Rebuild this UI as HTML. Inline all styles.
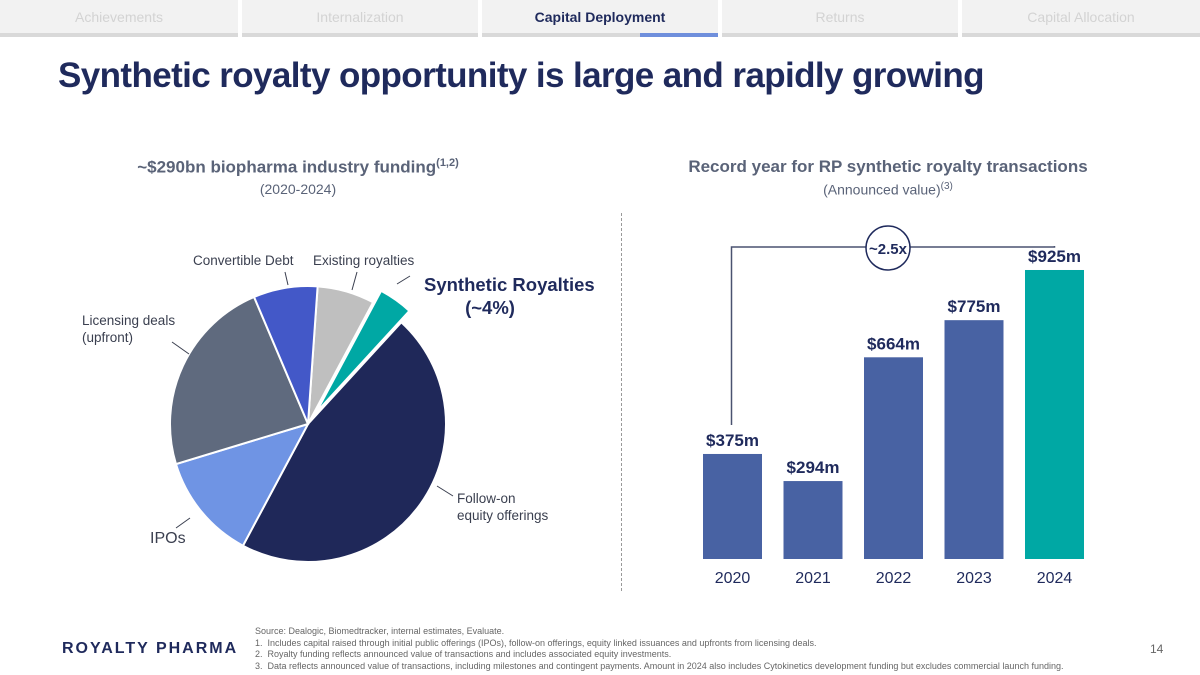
<!DOCTYPE html>
<html><head><meta charset="utf-8"><style>
body{margin:0;width:1200px;height:675px;overflow:hidden;background:#fff;font-family:"Liberation Sans",sans-serif;position:relative}
.tab{position:absolute;top:0;height:33px;background:#f2f2f2;color:#d3d3d3;font-size:14px;line-height:34px;text-align:center}
.tabbar{position:absolute;top:33px;height:4px;background:#d9d9d9}
.abs{position:absolute}
</style></head><body>
<div>
<div class="tab" style="left:0;width:238px">Achievements</div>
<div class="tab" style="left:242px;width:236px">Internalization</div>
<div class="tab" style="left:482px;width:236px;color:#1f2a5c;font-weight:bold">Capital Deployment</div>
<div class="tab" style="left:722px;width:236px">Returns</div>
<div class="tab" style="left:962px;width:238px">Capital Allocation</div>
<div class="tabbar" style="left:0;width:238px"></div><div class="tabbar" style="left:242px;width:236px"></div><div class="tabbar" style="left:482px;width:236px"></div><div class="tabbar" style="left:722px;width:236px"></div><div class="tabbar" style="left:962px;width:238px"></div>
<div class="abs" style="left:640px;top:33px;width:78px;height:4px;background:#6f8fdc"></div>
</div>
<div class="abs" style="left:58px;top:56px;font-size:35px;font-weight:bold;color:#1f2a5c;letter-spacing:-0.6px">Synthetic royalty opportunity is large and rapidly growing</div>
<div class="abs" style="left:60px;width:476px;top:157px;text-align:center;font-size:17px;font-weight:bold;color:#5a6378">~$290bn biopharma industry funding<sup style="font-size:11px">(1,2)</sup></div>
<div class="abs" style="left:60px;width:476px;top:181px;text-align:center;font-size:14px;color:#5a6378">(2020-2024)</div>
<div class="abs" style="left:650px;width:476px;top:157px;text-align:center;font-size:17px;font-weight:bold;color:#5a6378">Record year for RP synthetic royalty transactions</div>
<div class="abs" style="left:650px;width:476px;top:181px;text-align:center;font-size:14px;color:#5a6378">(Announced value)<sup style="font-size:10px">(3)</sup></div>
<div class="abs" style="left:621px;top:213px;height:378px;border-left:1px dashed #999"></div>
<svg class="abs" style="left:0;top:0" width="1200" height="675" id="chart"></svg>
<div class="abs" style="left:62px;top:640px;font-size:16px;font-weight:bold;color:#1f2a5c;letter-spacing:2px">ROYALTY PHARMA</div>
<div class="abs" style="left:255px;top:626px;font-size:9px;line-height:11.5px;color:#666">Source: Dealogic, Biomedtracker, internal estimates, Evaluate.<br>1.&nbsp; Includes capital raised through initial public offerings (IPOs), follow-on offerings, equity linked issuances and upfronts from licensing deals.<br>2.&nbsp; Royalty funding reflects announced value of transactions and includes associated equity investments.<br>3.&nbsp; Data reflects announced value of transactions, including milestones and contingent payments. Amount in 2024 also includes Cytokinetics development funding but excludes commercial launch funding.</div>
<div class="abs" style="left:1150px;top:642px;font-size:12px;color:#666">14</div>
<script>
const sliceNames=["Existing royalties","Synthetic Royalties","Follow-on equity offerings","IPOs","Licensing deals","Convertible Debt"];
const sliceValues=[6.7,4,46,12.5,23.3,7.5];
const sliceColors=["#bfbfbf","#00a8a4","#1f2859","#6f94e4","#5f6a7e","#4358c8"];
const years=["2020","2021","2022","2023","2024"];
const amounts=[375,294,664,775,925];
const amountLabels=["$375m","$294m","$664m","$775m","$925m"];
const NS="http://www.w3.org/2000/svg";
const svg=document.getElementById('chart');
function mk(t,a,p){const e=document.createElementNS(NS,t);for(const k in a)e.setAttribute(k,a[k]);(p||svg).appendChild(e);return e;}
const cx=308,cy=424,r=138,start=4;
const total=sliceValues.reduce((a,b)=>a+b,0);
let ang=start;
sliceValues.forEach((v,i)=>{
 const a0=ang,a1=ang+v/total*360;ang=a1;
 const mid=(a0+a1)/2*Math.PI/180;
 const off=i===1?14:0;
 const ox=cx+off*Math.sin(mid),oy=cy-off*Math.cos(mid);
 const p=a=>[ox+r*Math.sin(a*Math.PI/180),oy-r*Math.cos(a*Math.PI/180)];
 const [x0,y0]=p(a0),[x1,y1]=p(a1);
 const path=mk('path',{d:`M${ox},${oy}L${x0},${y0}A${r},${r} 0 ${a1-a0>180?1:0} 1 ${x1},${y1}Z`,fill:sliceColors[i],stroke:'#fff','stroke-width':2});
 
 
});
function txt(x,y,s,o){const t=mk('text',Object.assign({x:x,y:y,'font-size':14,fill:'#3a3f4f'},o||{}));t.textContent=s;return t;}
const lbl=[[193,265,"Convertible Debt","label-convertible-debt"],[313,265,"Existing royalties","label-existing-royalties"],[82,325,"Licensing deals","label-licensing"],[82,342,"(upfront)","label-licensing-2"],[457,503,"Follow-on","label-follow-on"],[457,520,"equity offerings","label-follow-on-2"],[150,543,"IPOs","label-ipos"]];
lbl.forEach(l=>{const t=txt(l[0],l[1],l[2],{'font-size':l[2]==="IPOs"?16:13.5});});
let t1=txt(424,291,"Synthetic Royalties",{'font-size':18.5,'font-weight':'bold',fill:'#1f2a5c'});

let t2=txt(490,314,"(~4%)",{'font-size':18.5,'font-weight':'bold',fill:'#1f2a5c','text-anchor':'middle'});

[[285,272,288,285],[357,272,352,290],[397,284,410,276],[172,342,189,354],[437,486,453,496],[176,528,190,518]].forEach(l=>{const e=mk('line',{x1:l[0],y1:l[1],x2:l[2],y2:l[3],stroke:'#3a3f4f','stroke-width':1});});
const base=559,scale=0.3345,vmin=61,bw=59,x0b=703,step=80.5;
const xOf=i=>x0b+i*step, yOf=v=>base-(v-vmin)*scale;
amounts.forEach((v,i)=>{
 const b=mk('rect',{x:xOf(i),y:yOf(v),width:bw,height:base-yOf(v),fill:i===4?'#00a8a4':'#4862a3'});
 
 const vl=txt(xOf(i)+bw/2,yOf(v)-8,amountLabels[i],{'font-size':17,'font-weight':'bold',fill:'#1f2a5c','text-anchor':'middle'});
 
 const yl=txt(xOf(i)+bw/2,583,years[i],{'font-size':16,fill:'#1f2a5c','text-anchor':'middle'});
 
});
const bx1=xOf(0)+bw/2-1,bx2=xOf(4)+bw/2,by=247;
const br=mk('path',{d:`M${bx1},${yOf(amounts[0])-29}V${by}H${bx2}V${yOf(amounts[4])-24}`,fill:'none',stroke:'#4a5270','stroke-width':1.5});

const c=mk('circle',{cx:888,cy:248,r:22,fill:'#fff',stroke:'#1f2a5c','stroke-width':1.5});

const gt=txt(888,254,"~2.5x",{'font-size':15,'font-weight':'bold',fill:'#1f2a5c','text-anchor':'middle'});

</script>
</body></html>
